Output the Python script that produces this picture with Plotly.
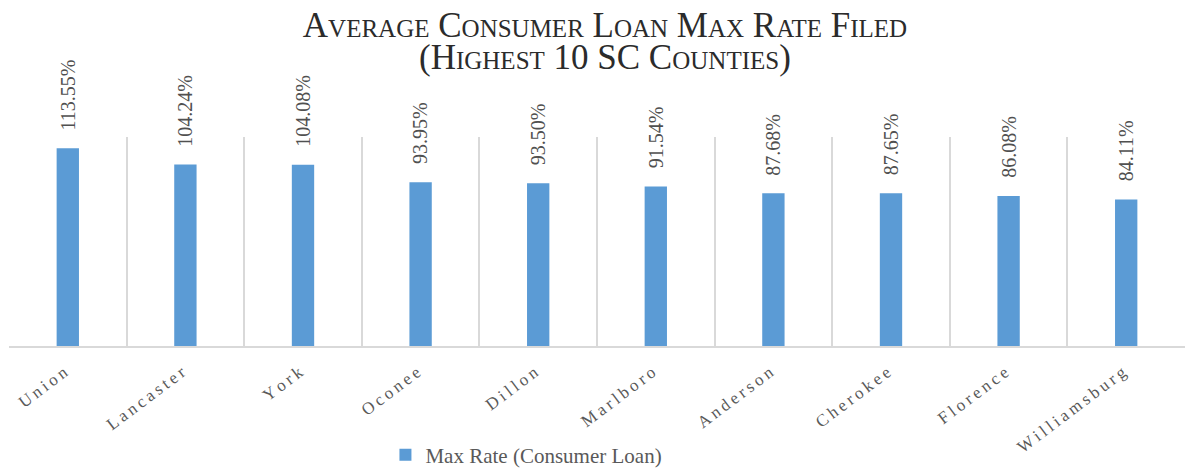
import plotly.graph_objects as go

# Highest 10 SC counties, average max rate filed (consumer loans), in %
counties = ["Union", "Lancaster", "York", "Oconee", "Dillon",
            "Marlboro", "Anderson", "Cherokee", "Florence", "Williamsburg"]
max_rate = [113.55, 104.24, 104.08, 93.95, 93.50,
            91.54, 87.68, 87.65, 86.08, 84.11]

serif = "Liberation Serif, Times New Roman, serif"
W, H = 1185, 460  # page body adds an 8px offset, so keep the figure inside the window

fig = go.Figure()
fig.add_trace(go.Bar(
    x=counties,
    y=max_rate,
    name="Max Rate (Consumer Loan)",
    marker=dict(color="#5B9BD5", line=dict(width=0)),
))

# value labels, rotated, sitting a little above each bar
for c, v in zip(counties, max_rate):
    fig.add_annotation(
        x=c, y=v, text=f"{v:.2f}%",
        textangle=-90, showarrow=False,
        xanchor="center", yanchor="bottom", yshift=16,
        font=dict(family=serif, size=20, color="#505050"),
    )

fig.update_layout(
    width=W, height=H,
    paper_bgcolor="white", plot_bgcolor="white",
    margin=dict(l=1, r=8, t=129, b=122, autoexpand=False),
    bargap=0.81,
    title=dict(
        text="Average Consumer Loan Max Rate Filed",
        font=dict(family=serif, size=35, color="#2b2b2b", variant="small-caps"),
        xref="container", x=597 / W, xanchor="center",
        yref="container", y=1 - 17 / H, yanchor="middle",
    ),
    showlegend=True,
    legend=dict(
        orientation="h",
        x=0.44, xanchor="center",
        yref="container", y=1 - 447 / H, yanchor="middle",
        font=dict(family=serif, size=21, color="#595959"),
    ),
)
fig.add_annotation(
    text="(Highest 10 SC Counties)",
    xref="paper", yref="paper", x=596 / (W - 9), y=1 + (129 - 50) / 209,
    xanchor="center", yanchor="middle", showarrow=False,
    font=dict(family=serif, size=35, color="#2b2b2b", variant="small-caps"),
)

fig.update_xaxes(
    type="category",
    automargin=False,
    tickson="boundaries",
    showgrid=True, gridcolor="#D9D9D9", gridwidth=2,
    showline=True, linecolor="#D9D9D9", linewidth=2,
    ticks="", tickangle=-37,
    ticklabelstandoff=8, ticklabelshift=-4,
    tickmode="array", tickvals=counties,
    ticktext=["\u2009".join(c) for c in counties],
    tickfont=dict(family=serif, size=17, color="#595959"),
)
fig.update_yaxes(
    range=[0, 120],
    automargin=False,
    showgrid=False, zeroline=False, showticklabels=False,
)

fig.write_html("out.html")
